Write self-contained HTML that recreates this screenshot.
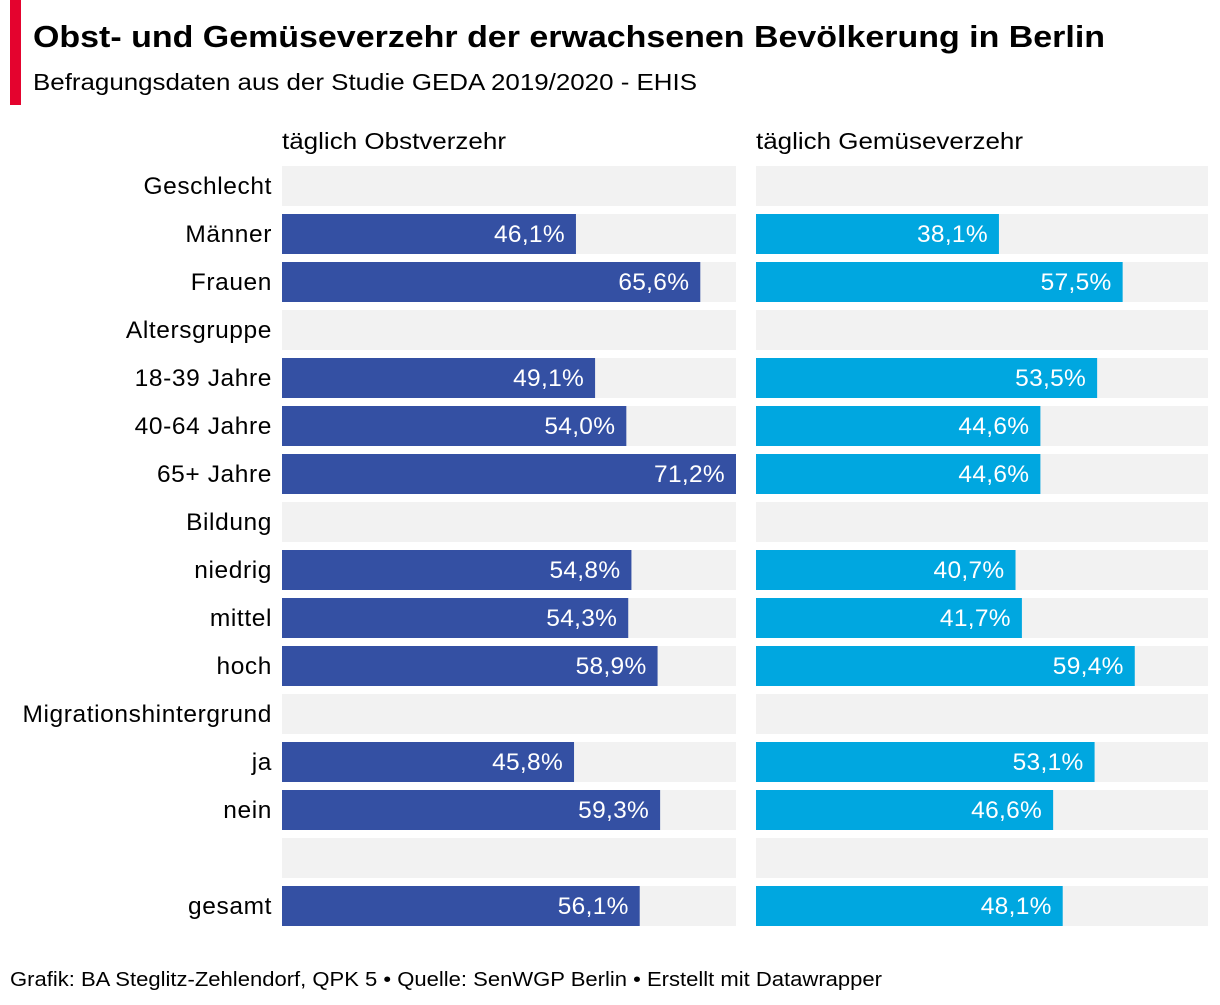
<!DOCTYPE html>
<html><head><meta charset="utf-8">
<style>
body{margin:0;background:#fff;width:1220px;height:1000px;overflow:hidden;font-family:"Liberation Sans",Arial,sans-serif;}
</style></head>
<body>
<svg id="chart" width="1220" height="1000" xmlns="http://www.w3.org/2000/svg">
<rect x="10" y="0" width="11" height="105" fill="#e4032e"/>
<text x="33" y="47" font-size="31" font-weight="bold" fill="#000" textLength="1072" lengthAdjust="spacingAndGlyphs">Obst- und Gemüseverzehr der erwachsenen Bevölkerung in Berlin</text>
<text x="33" y="90" font-size="23" fill="#000" textLength="664" lengthAdjust="spacingAndGlyphs">Befragungsdaten aus der Studie GEDA 2019/2020 - EHIS</text>
<text x="282" y="149" font-size="23" fill="#000" textLength="224" lengthAdjust="spacingAndGlyphs">täglich Obstverzehr</text>
<text x="756" y="149" font-size="23" fill="#000" textLength="267" lengthAdjust="spacingAndGlyphs">täglich Gemüseverzehr</text>
<g id="rows"></g>
<text x="10" y="986" font-size="20" fill="#000" textLength="872" lengthAdjust="spacingAndGlyphs">Grafik: BA Steglitz-Zehlendorf, QPK 5 • Quelle: SenWGP Berlin • Erstellt mit Datawrapper</text>
</svg>
<script>
const categories=["Geschlecht","Männer","Frauen","Altersgruppe","18-39 Jahre","40-64 Jahre","65+ Jahre","Bildung","niedrig","mittel","hoch","Migrationshintergrund","ja","nein","","gesamt"];
const fruitValues=[null,46.1,65.6,null,49.1,54.0,71.2,null,54.8,54.3,58.9,null,45.8,59.3,null,56.1];
const vegValues=[null,38.1,57.5,null,53.5,44.6,44.6,null,40.7,41.7,59.4,null,53.1,46.6,null,48.1];
const domainMax=71.2;
const NS="http://www.w3.org/2000/svg";
const g=document.getElementById("rows");
const top0=166,pitch=48,bh=40;
const panels=[{x:282,w:454,vals:fruitValues,color:"#3450a3",key:"fruit"},{x:756,w:452,vals:vegValues,color:"#00a7e0",key:"veg"}];
const scale=v=>v/domainMax*454;
function el(tag,attrs){const e=document.createElementNS(NS,tag);for(const k in attrs)e.setAttribute(k,attrs[k]);return e;}
categories.forEach((c,i)=>{
  const y=top0+i*pitch;
  const t=el("text",{x:272,y:y+28,"font-size":24.5,"letter-spacing":0.6,"text-anchor":"end",fill:"#000"});
  t.textContent=c;
  
  
  g.appendChild(t);
  panels.forEach(p=>{
    const bg=el("rect",{x:p.x,y:y,width:p.w,height:bh,fill:"#f2f2f2"});
    
    
    g.appendChild(bg);
    const v=p.vals[i];
    if(v!=null){
      const w=Math.min(scale(v),p.w);
      const r=el("rect",{x:p.x,y:y,width:w,height:bh,fill:p.color});
      
      
      g.appendChild(r);
      const lt=el("text",{x:p.x+w-11,y:y+28,"font-size":24.5,"letter-spacing":0.3,"text-anchor":"end",fill:"#fff"});
      lt.textContent=v.toFixed(1).replace(".",",")+"%";
      
      
      g.appendChild(lt);
    }
  });
});
</script>
</body></html>
